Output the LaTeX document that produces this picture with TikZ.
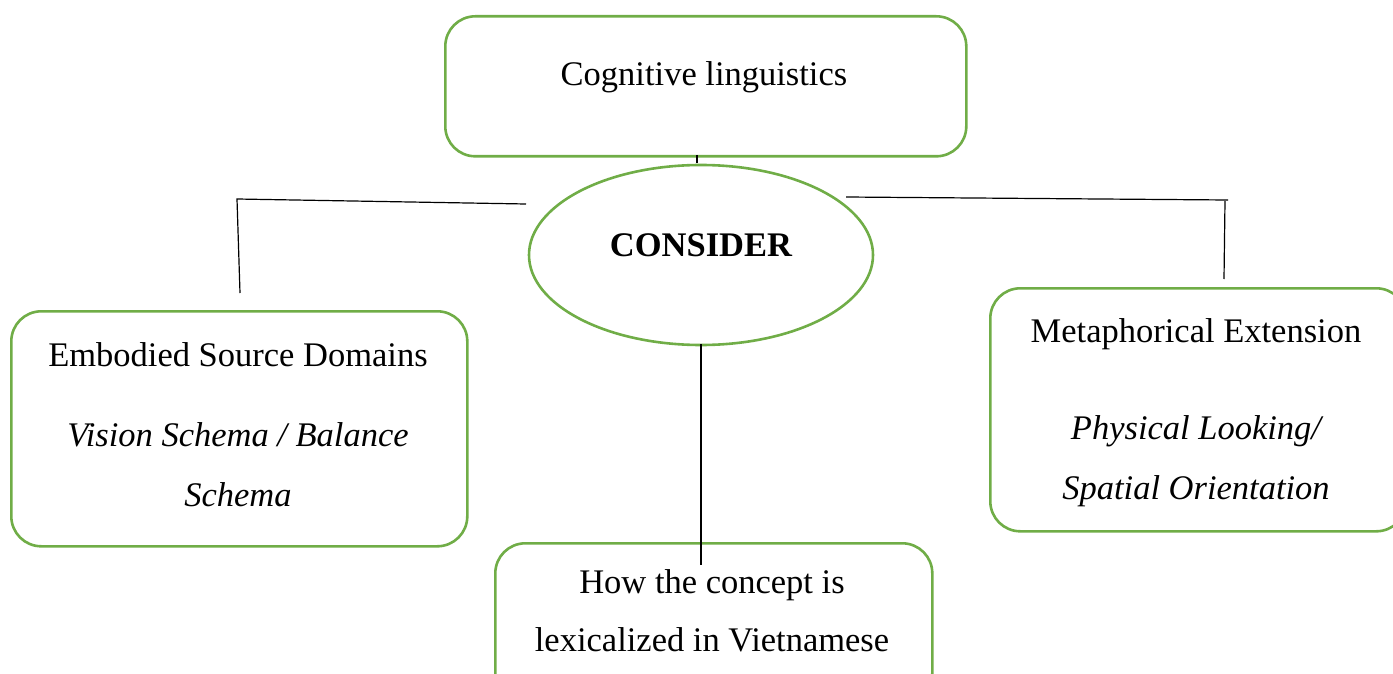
\documentclass[tikz,border=0pt]{standalone}
\usepackage{fontspec}
\setmainfont{Liberation Serif}
\usetikzlibrary{shapes.geometric}
\definecolor{boxgreen}{HTML}{70AD47}
\begin{document}
\begin{tikzpicture}[x=1pt,y=-1pt,
  gbox/.style={draw=boxgreen, line width=2.6pt, rounded corners=30pt, inner sep=0pt, anchor=north west},
  gell/.style={draw=boxgreen, line width=2.6pt, ellipse, inner sep=0pt},
  txt/.style={font=\fontsize{34.5}{40}\selectfont, anchor=base, inner sep=0pt},
  conn/.style={draw=black, line width=1.2pt}]
\useasboundingbox (0,0) rectangle (1393,674);
% boxes
\node[gbox, minimum width=521pt, minimum height=140pt] (top) at (444,15) {};
\node[gell, minimum width=344pt, minimum height=180pt] (cons) at (701,255) {};
\node[gbox, minimum width=456pt, minimum height=235pt] (left) at (10,310) {};
\node[gbox, minimum width=416pt, minimum height=243pt] (right) at (989,287) {};
\node[gbox, minimum width=437pt, minimum height=160pt] (bottom) at (494,542) {};
% texts
\node[txt] (t1) at (704,86) {Cognitive linguistics};
\node[txt, font=\fontsize{34.5}{40}\selectfont\bfseries] (t2) at (701,256) {CONSIDER};
\node[txt] (t3) at (238,366) {Embodied Source Domains};
\node[txt, font=\fontsize{34.5}{40}\selectfont\itshape] (t4) at (238,446) {Vision Schema / Balance};
\node[txt, font=\fontsize{34.5}{40}\selectfont\itshape] (t5) at (238,506) {Schema};
\node[txt] (t6) at (1196,342) {Metaphorical Extension};
\node[txt, font=\fontsize{34.5}{40}\selectfont\itshape] (t7) at (1196,439) {Physical Looking/};
\node[txt, font=\fontsize{34.5}{40}\selectfont\itshape] (t8) at (1196,499) {Spatial Orientation};
\node[txt] (t9) at (712,593) {How the concept is};
\node[txt] (t10) at (712,651) {lexicalized in Vietnamese};
% connector coordinates
\coordinate (tickA) at (697,155);
\coordinate (tickB) at (697,163);
\coordinate (lA) at (526,204);
\coordinate (lB) at (237,199);
\coordinate (lC) at (240,293);
\coordinate (rA) at (846,197);
\coordinate (rB) at (1228,200);
\coordinate (rC) at (1225,201);
\coordinate (rD) at (1224,279);
\coordinate (cA) at (701,344);
\coordinate (cB) at (701,565);
% connectors
\draw[conn] (tickA) -- (tickB);
\draw[conn] (lA) -- (lB) -- (lC);
\draw[conn] (rA) -- (rB);
\draw[conn] (rC) -- (rD);
\draw[conn] (cA) -- (cB);
\end{tikzpicture}
\end{document}
